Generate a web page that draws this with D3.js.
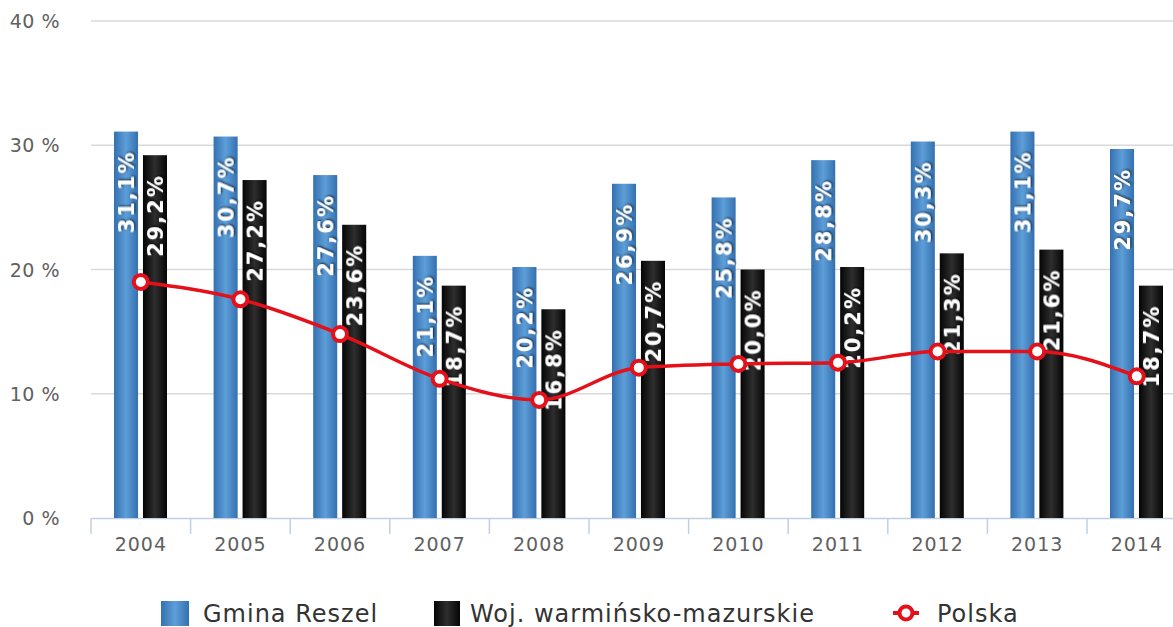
<!DOCTYPE html>
<html>
<head>
<meta charset="utf-8">
<script src="https://cdn.jsdelivr.net/npm/d3@7"></script>
<style>
  body { margin: 0; background: #fff; }
  svg { display: block; font-family: "DejaVu Sans", sans-serif; }
</style>
</head>
<body>
<div id="chart"></div>
<script>
const years = ["2004", "2005", "2006", "2007", "2008", "2009", "2010", "2011", "2012", "2013", "2014"];
const gmina = [31.1, 30.7, 27.6, 21.1, 20.2, 26.9, 25.8, 28.8, 30.3, 31.1, 29.7];
const woj = [29.2, 27.2, 23.6, 18.7, 16.8, 20.7, 20.0, 20.2, 21.3, 21.6, 18.7];
const polska = [19.0, 17.6, 14.8, 11.2, 9.5, 12.1, 12.4, 12.5, 13.4, 13.4, 11.4];
const yTicks = [0, 10, 20, 30, 40];
const seriesNames = ["Gmina Reszel", "Woj. warmińsko-mazurskie", "Polska"];

const W = 1173, H = 627;
const svg = d3.select("#chart").append("svg")
  .attr("width", W)
  .attr("height", H);

const defs = svg.append("defs");
const gBlue = defs.append("linearGradient").attr("id", "gblue");
gBlue.append("stop").attr("offset", "0%").attr("stop-color", "#3470b0");
gBlue.append("stop").attr("offset", "50%").attr("stop-color", "#5d9ed8");
gBlue.append("stop").attr("offset", "100%").attr("stop-color", "#3470b0");
const gBlack = defs.append("linearGradient").attr("id", "gblack");
gBlack.append("stop").attr("offset", "0%").attr("stop-color", "#050505");
gBlack.append("stop").attr("offset", "50%").attr("stop-color", "#2e2e2e");
gBlack.append("stop").attr("offset", "100%").attr("stop-color", "#050505");
const shadow = defs.append("filter").attr("id", "shadow")
  .attr("x", "-20%").attr("y", "-20%").attr("width", "140%").attr("height", "140%");
shadow.append("feDropShadow")
  .attr("dx", 1).attr("dy", 1).attr("stdDeviation", 1)
  .attr("flood-color", "#000").attr("flood-opacity", 0.8);

const x = d3.scaleBand()
  .domain(years)
  .range([91, 91 + 11 * 99.6]);

const inner = d3.scaleBand()
  .domain(["g", "w"])
  .range([23, 76])
  .paddingInner(0.17);

const y = d3.scaleLinear()
  .domain([0, 40])
  .range([518, 21]);

// grid
svg.append("g")
  .selectAll("line")
  .data(yTicks.filter(d => d > 0))
  .enter()
  .append("line")
  .attr("x1", 91)
  .attr("x2", W)
  .attr("y1", d => y(d))
  .attr("y2", d => y(d))
  .attr("stroke", "#d9d9d9")
  .attr("stroke-width", 1.5);

// y labels
svg.append("g")
  .selectAll("text")
  .data(yTicks)
  .enter()
  .append("text")
  .attr("x", 60)
  .attr("y", d => y(d) + 7)
  .attr("text-anchor", "end")
  .attr("fill", "#606060")
  .style("font-size", "19px")
  .style("letter-spacing", "0.5px")
  .text(d => d + " %");

// x axis
const xAxis = svg.append("g")
  .attr("transform", "translate(0,518)")
  .call(d3.axisBottom(x).tickSize(0).tickPadding(20));
xAxis.select(".domain").attr("stroke", "#c0d0e0").attr("stroke-width", 1.5);
xAxis.selectAll("text")
  .attr("fill", "#606060")
  .style("font-size", "19px")
  .style("letter-spacing", "1px")
  .style("font-family", "DejaVu Sans, sans-serif");
xAxis.selectAll(".sep")
  .data(years)
  .enter()
  .append("line")
  .attr("class", "sep")
  .attr("x1", d => x(d))
  .attr("x2", d => x(d))
  .attr("y1", 0)
  .attr("y2", 16)
  .attr("stroke", "#c0d0e0")
  .attr("stroke-width", 1.5);

// bars
const rows = years.map((yr, i) => ({ year: yr, g: gmina[i], w: woj[i], p: polska[i] }));

const groups = svg.append("g")
  .selectAll("g")
  .data(rows)
  .enter()
  .append("g")
  .attr("transform", d => `translate(${x(d.year)},0)`);

groups.append("rect")
  .attr("x", inner("g"))
  .attr("width", inner.bandwidth())
  .attr("y", d => y(d.g))
  .attr("height", d => y(0) - y(d.g))
  .attr("fill", "url(#gblue)");

groups.append("rect")
  .attr("x", inner("w"))
  .attr("width", inner.bandwidth())
  .attr("y", d => y(d.w))
  .attr("height", d => y(0) - y(d.w))
  .attr("fill", "url(#gblack)");

const fmt = v => v.toFixed(1).replace(".", ",") + "%";

function addLabel(sel, key) {
  sel.append("text")
    .attr("transform", d => {
      const cx = inner(key) + inner.bandwidth() / 2 + 8;
      return `translate(${cx},${y(d[key]) + 19}) rotate(-90)`;
    })
    .attr("text-anchor", "end")
    .attr("fill", "#fff")
    .attr("filter", "url(#shadow)")
    .style("font-size", "21px")
    .style("font-weight", "bold")
    .style("letter-spacing", "2px")
    .text(d => fmt(d[key]));
}

// line
const cx = d => x(d.year) + x.bandwidth() / 2;
const line = d3.line()
  .x(cx)
  .y(d => y(d.p))
  .curve(d3.curveMonotoneX);

svg.append("path")
  .datum(rows)
  .attr("d", line)
  .attr("fill", "none")
  .attr("stroke", "#e4101a")
  .attr("stroke-width", 3.5);

svg.append("g")
  .selectAll("circle")
  .data(rows)
  .enter()
  .append("circle")
  .attr("cx", cx)
  .attr("cy", d => y(d.p))
  .attr("r", 7)
  .attr("fill", "#fff")
  .attr("stroke", "#e4101a")
  .attr("stroke-width", 4);

addLabel(groups, "g");
addLabel(groups, "w");

// legend
const legend = svg.append("g").attr("transform", "translate(0,612)");
const legX = [161, 434, 893];

legend.append("rect")
  .attr("x", legX[0]).attr("y", -11).attr("width", 28).attr("height", 25)
  .attr("fill", "url(#gblue)");
legend.append("rect")
  .attr("x", legX[1]).attr("y", -11).attr("width", 26).attr("height", 25)
  .attr("fill", "url(#gblack)");
legend.append("line")
  .attr("x1", legX[2]).attr("x2", legX[2] + 26)
  .attr("y1", 1).attr("y2", 1)
  .attr("stroke", "#e4101a").attr("stroke-width", 4);
legend.append("circle")
  .attr("cx", legX[2] + 13).attr("cy", 1).attr("r", 6.5)
  .attr("fill", "#fff").attr("stroke", "#e4101a").attr("stroke-width", 4);

legend.selectAll(".lt")
  .data(seriesNames)
  .enter()
  .append("text")
  .attr("class", "lt")
  .attr("x", (d, i) => [203, 470, 937][i])
  .attr("y", 10)
  .attr("fill", "#333")
  .style("font-size", "24px")
  .style("letter-spacing", "1px")
  .text(d => d);
</script>
</body>
</html>
